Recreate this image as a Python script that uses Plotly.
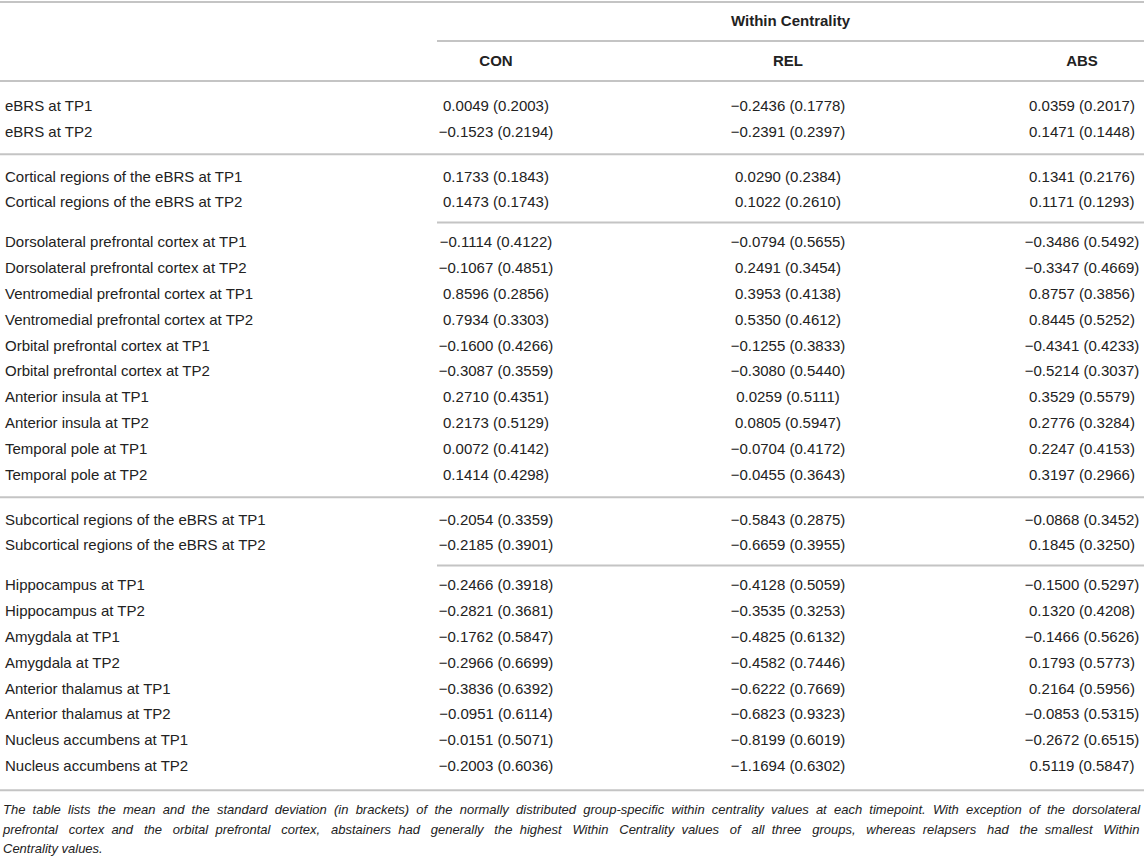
import plotly.graph_objects as go

# table content
group_title = "Within Centrality"
columns = ["CON", "REL", "ABS"]

regions = [
    "eBRS at TP1", "eBRS at TP2",
    "Cortical regions of the eBRS at TP1", "Cortical regions of the eBRS at TP2",
    "Dorsolateral prefrontal cortex at TP1", "Dorsolateral prefrontal cortex at TP2",
    "Ventromedial prefrontal cortex at TP1", "Ventromedial prefrontal cortex at TP2",
    "Orbital prefrontal cortex at TP1", "Orbital prefrontal cortex at TP2",
    "Anterior insula at TP1", "Anterior insula at TP2",
    "Temporal pole at TP1", "Temporal pole at TP2",
    "Subcortical regions of the eBRS at TP1", "Subcortical regions of the eBRS at TP2",
    "Hippocampus at TP1", "Hippocampus at TP2",
    "Amygdala at TP1", "Amygdala at TP2",
    "Anterior thalamus at TP1", "Anterior thalamus at TP2",
    "Nucleus accumbens at TP1", "Nucleus accumbens at TP2",
]

con_mean = [0.0049, -0.1523, 0.1733, 0.1473, -0.1114, -0.1067, 0.8596, 0.7934,
            -0.1600, -0.3087, 0.2710, 0.2173, 0.0072, 0.1414, -0.2054, -0.2185,
            -0.2466, -0.2821, -0.1762, -0.2966, -0.3836, -0.0951, -0.0151, -0.2003]
con_sd = [0.2003, 0.2194, 0.1843, 0.1743, 0.4122, 0.4851, 0.2856, 0.3303,
          0.4266, 0.3559, 0.4351, 0.5129, 0.4142, 0.4298, 0.3359, 0.3901,
          0.3918, 0.3681, 0.5847, 0.6699, 0.6392, 0.6114, 0.5071, 0.6036]
rel_mean = [-0.2436, -0.2391, 0.0290, 0.1022, -0.0794, 0.2491, 0.3953, 0.5350,
            -0.1255, -0.3080, 0.0259, 0.0805, -0.0704, -0.0455, -0.5843, -0.6659,
            -0.4128, -0.3535, -0.4825, -0.4582, -0.6222, -0.6823, -0.8199, -1.1694]
rel_sd = [0.1778, 0.2397, 0.2384, 0.2610, 0.5655, 0.3454, 0.4138, 0.4612,
          0.3833, 0.5440, 0.5111, 0.5947, 0.4172, 0.3643, 0.2875, 0.3955,
          0.5059, 0.3253, 0.6132, 0.7446, 0.7669, 0.9323, 0.6019, 0.6302]
abs_mean = [0.0359, 0.1471, 0.1341, 0.1171, -0.3486, -0.3347, 0.8757, 0.8445,
            -0.4341, -0.5214, 0.3529, 0.2776, 0.2247, 0.3197, -0.0868, 0.1845,
            -0.1500, 0.1320, -0.1466, 0.1793, 0.2164, -0.0853, -0.2672, 0.5119]
abs_sd = [0.2017, 0.1448, 0.2176, 0.1293, 0.5492, 0.4669, 0.3856, 0.5252,
          0.4233, 0.3037, 0.5579, 0.3284, 0.4153, 0.2966, 0.3452, 0.3250,
          0.5297, 0.4208, 0.5626, 0.5773, 0.5956, 0.5315, 0.6515, 0.5847]

group_sizes = [2, 2, 10, 2, 8]
rule_kinds = ["full", "partial", "full", "partial"]

footnote = [
    "The table lists the mean and the standard deviation (in brackets) of the normally distributed group-specific "
    "within centrality values at each timepoint. With exception of the dorsolateral",
    "prefrontal cortex and the orbital prefrontal cortex, abstainers had generally the highest Within Centrality "
    "values of all three groups, whereas relapsers had the smallest Within",
    "Centrality values.",
]

# axes run in page pixels (the body margin is removed after plotting)
W, H = 1144, 857
FONT = "Liberation Sans"
TEXT = "#222222"
RULE = "#c4c4c4"
col_x = [496, 788, 1082]
data_left = 437
row_pitch = 25.8
gap = {"full": 45, "partial": 40}
first_row = 107
FN_SIZE = 13
FN_LEFT, FN_RIGHT = 3, 1139

# Arial / Liberation Sans advance widths (1/1000 em), used to justify the footnote
ADV = dict(zip("abcdefghijklmnopqrstuvwxyz",
               [556, 556, 500, 556, 556, 278, 556, 556, 222, 222, 500, 222, 833,
                556, 556, 556, 556, 333, 500, 278, 556, 500, 722, 500, 500, 500]))
ADV.update({" ": 278, "T": 611, "W": 944, "C": 722, "(": 333, ")": 333, ".": 278, ",": 278, "-": 333})


def fmt(m, s):
    return f"{m:.4f} ({s:.4f})".replace("-", "\u2212")


def justify(line, size, width):
    natural = sum(ADV.get(ch, 556) for ch in line) * size / 1000
    words = line.split(" ")
    gaps = len(words) - 1
    n_extra = max(0, round((width - natural) / (ADV[" "] * size / 1000)))
    out = words[0]
    given = 0
    for i in range(1, len(words)):
        want = round(n_extra * i / gaps)
        out += " " + "\u00a0" * (want - given) + words[i]
        given = want
    return out


# row positions and separator positions
row_y = []
rule_y = []
y = first_row
for g, n in enumerate(group_sizes):
    for i in range(n):
        row_y.append(y)
        if i < n - 1:
            y += row_pitch
    if g < len(rule_kinds):
        step = gap[rule_kinds[g]]
        rule_y.append(y + step / 2 - 1)
        y += step
bottom_rule = row_y[-1] + 23

fig = go.Figure()

fig.add_trace(go.Scatter(x=[5] * len(regions), y=row_y, text=regions, mode="text",
                         textposition="middle right", textfont=dict(family=FONT, size=15, color=TEXT),
                         hoverinfo="skip"))
for cx, means, sds in zip(col_x, [con_mean, rel_mean, abs_mean], [con_sd, rel_sd, abs_sd]):
    fig.add_trace(go.Scatter(x=[cx] * len(means), y=row_y, text=[fmt(m, s) for m, s in zip(means, sds)],
                             mode="text", textposition="middle center",
                             textfont=dict(family=FONT, size=15, color=TEXT), hoverinfo="skip"))

# headers
fig.add_trace(go.Scatter(x=[(data_left + W) / 2] + col_x, y=[22, 62, 62, 62],
                         text=["<b>" + group_title + "</b>"] + ["<b>" + c + "</b>" for c in columns],
                         mode="text", textposition="middle center",
                         textfont=dict(family=FONT, size=15, color=TEXT), hoverinfo="skip"))

# footnote, justified like the source except for the last line
fn_text = [justify(t, FN_SIZE, FN_RIGHT - FN_LEFT) for t in footnote[:-1]] + footnote[-1:]
fn_y = [bottom_rule + 21 + 19.5 * i for i in range(len(footnote))]
fig.add_trace(go.Scatter(x=[FN_LEFT] * len(footnote), y=fn_y, text=["<i>" + t + "</i>" for t in fn_text],
                         mode="text", textposition="middle right",
                         textfont=dict(family=FONT, size=FN_SIZE, color=TEXT), hoverinfo="skip"))

shapes = [dict(type="line", x0=0, x1=W, y0=2, y1=2),
          dict(type="line", x0=data_left, x1=W, y0=41, y1=41),
          dict(type="line", x0=0, x1=W, y0=81, y1=81),
          dict(type="line", x0=0, x1=W, y0=bottom_rule, y1=bottom_rule)]
for ry, kind in zip(rule_y, rule_kinds):
    shapes.append(dict(type="line", x0=0 if kind == "full" else data_left, x1=W, y0=ry, y1=ry))
for s in shapes:
    s.update(xref="x", yref="y", line=dict(color=RULE, width=2))

fig.update_layout(
    width=W, height=H, margin=dict(l=0, r=0, t=0, b=0),
    paper_bgcolor="white", plot_bgcolor="white", showlegend=False,
    xaxis=dict(range=[0, W], visible=False, fixedrange=True),
    yaxis=dict(range=[H, 0], visible=False, fixedrange=True),
    shapes=shapes,
)

fig.write_html("out.html", config={"displayModeBar": False},
               post_script="document.body.style.margin = '0'; document.body.style.overflow = 'hidden';")
